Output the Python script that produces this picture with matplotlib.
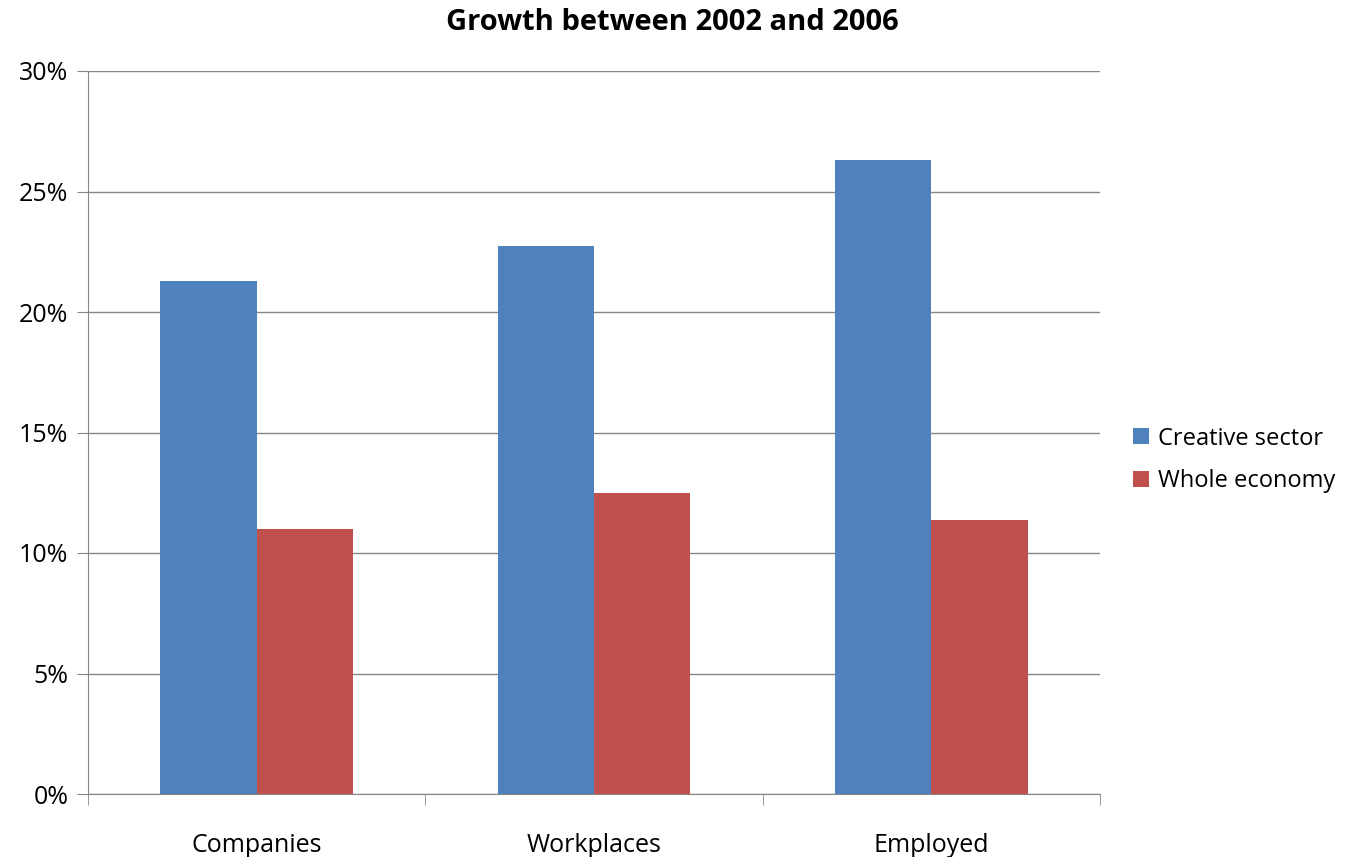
import matplotlib
matplotlib.use("Agg")
import matplotlib.pyplot as plt
import numpy as np
from matplotlib.ticker import FuncFormatter, FixedLocator

categories = ["Companies", "Workplaces", "Employed"]
creative = [21.3, 22.75, 26.3]
whole = [11.0, 12.5, 11.37]
series_names = ["Creative sector", "Whole economy"]
yticks = [0, 5, 10, 15, 20, 25, 30]

plt.rcParams['font.family'] = ['Open Sans', 'DejaVu Sans']

fig = plt.figure(figsize=(13.52, 8.57), dpi=100)
ax = fig.add_axes([88/1352, 1-794/857, (1100-88)/1352, (794-71)/857])

x = np.arange(len(categories))
w = 0.286
ax.bar(x - w/2, creative, w, color="#4F81BD", label=series_names[0], zorder=3)
ax.bar(x + w/2, whole, w, color="#C0504D", label=series_names[1], zorder=3)

ax.set_xlim(-0.5, len(categories) - 0.5)
ax.set_ylim(0, 30)
ax.set_yticks(yticks)
ax.yaxis.set_major_formatter(FuncFormatter(lambda v, p: f"{int(v)}%"))
ax.grid(axis='y', color="#868686", linewidth=1, zorder=0)
ax.set_xticks(x)
ax.set_xticklabels(categories)
ax.xaxis.set_minor_locator(FixedLocator(np.arange(-0.5, len(categories), 1.0)))
ax.tick_params(axis='x', which='major', length=0, pad=28, labelsize=18)
ax.tick_params(axis='x', which='minor', length=8, color="#868686")
ax.tick_params(axis='y', length=8, color="#868686", labelsize=18, pad=6)
for s in ['top', 'right']:
    ax.spines[s].set_visible(False)
for s in ['left', 'bottom']:
    ax.spines[s].set_color("#868686")

fig.text(0.497, 1-22/857, "Growth between 2002 and 2006", ha='center', va='center',
         fontsize=21, fontweight='bold')

ax.legend(loc='center left', bbox_to_anchor=(1.012, 0.462), frameon=False, fontsize=17,
          handlelength=0.65, handleheight=0.65, handletextpad=0.4, labelspacing=0.8)

fig.savefig("out.png", dpi=100)
